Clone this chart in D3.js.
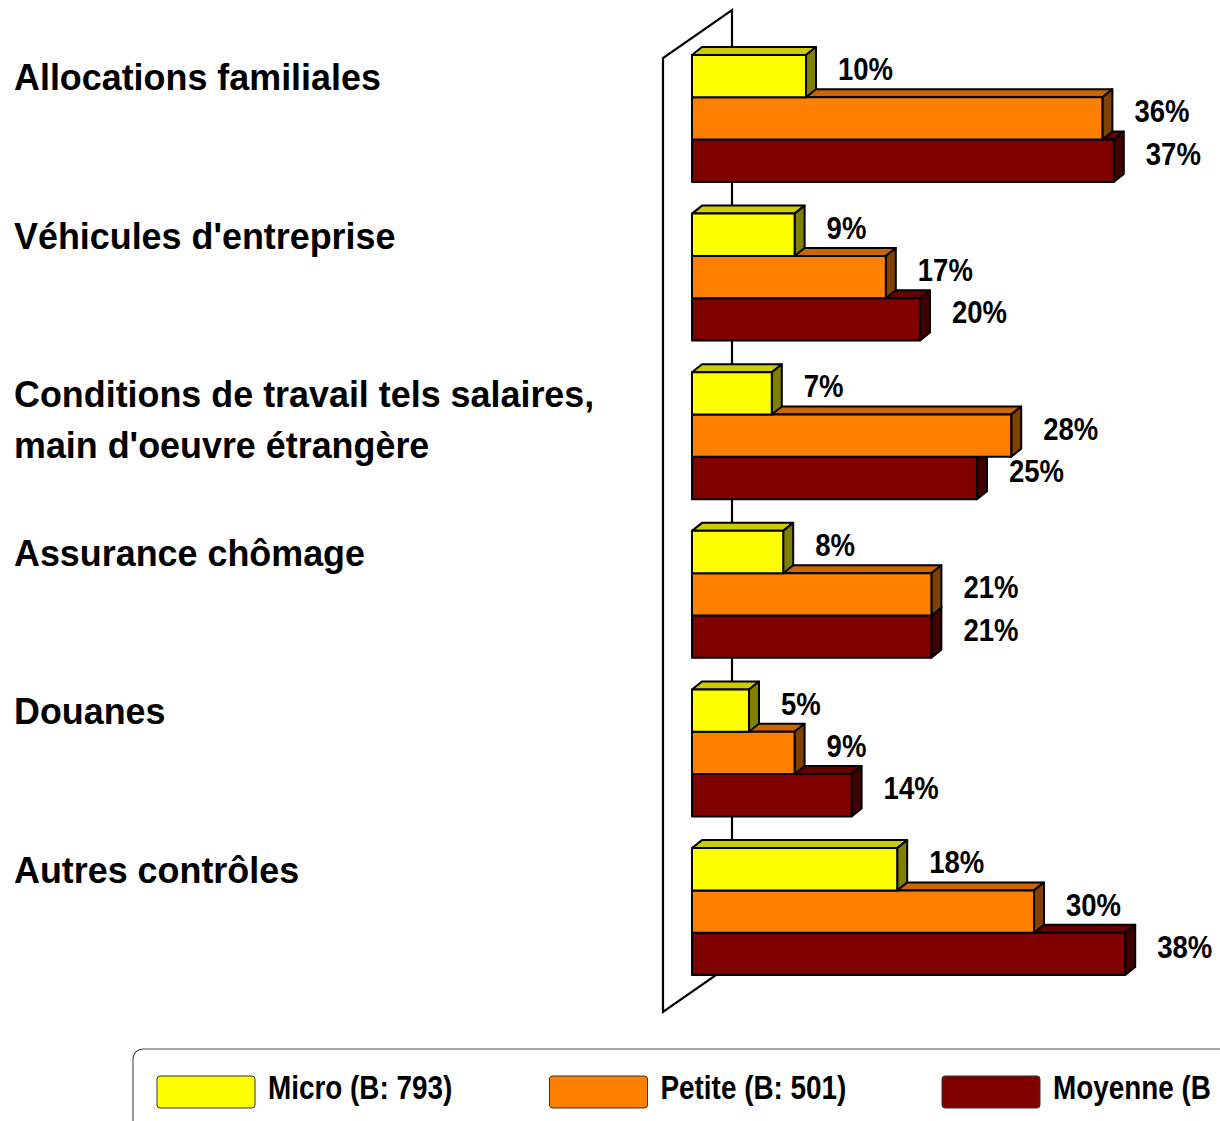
<!DOCTYPE html>
<html>
<head>
<meta charset="utf-8">
<script src="https://cdn.jsdelivr.net/npm/d3@7"></script>
<style>
  body { margin: 0; background: #fff; }
  svg { display: block; font-family: "Liberation Sans", Arial, sans-serif; font-weight: bold; }
</style>
</head>
<body>
<svg id="chart" width="1220" height="1121"></svg>
<script>
// categories (top to bottom), a category may hold several lines
let categories = [
    ["Allocations familiales"],
    ["Véhicules d'entreprise"],
    ["Conditions de travail tels salaires,", "main d'oeuvre étrangère"],
    ["Assurance chômage"],
    ["Douanes"],
    ["Autres contrôles"]
];
let seriesNames = ["Micro (B: 793)", "Petite (B: 501)", "Moyenne (B"];
let micro   = [10, 9, 7, 8, 5, 18];
let petite  = [36, 17, 28, 21, 9, 30];
let moyenne = [37, 20, 25, 21, 14, 38];

// face colours: front, top, side
let colors = [
    {front: "#FFFF00", top: "#CCCC00", side: "#808000"},
    {front: "#FF8000", top: "#CC6600", side: "#804000"},
    {front: "#800000", top: "#660000", side: "#400000"}
];

let svg = d3.select("#chart");

// Arial-like font squeezed horizontally by sx
function narrowText(parent, px, py, size, sx, str) {
    return parent.append("text")
        .attr("transform", "translate(" + px + "," + py + ") scale(" + sx + ",1)")
        .attr("font-size", size)
        .attr("fill", "black")
        .text(str);
}

// depth of the bars and of the wall
let dx = 10, dy = -8;
let wallDx = 69, wallDy = -48;

let x = d3.scaleLinear().domain([0, 40]).range([692, 692 + 456]);
let y = d3.scaleBand()
    .domain(d3.range(categories.length))
    .range([55, 975])
    .paddingInner(0.2);
let ySeries = d3.scaleBand()
    .domain(d3.range(seriesNames.length))
    .range([0, y.bandwidth()]);

let values = [micro, petite, moyenne];

// Side wall of the 3d plot
let wallX = 663, wallTop = 58, wallBottom = 1012;
svg.append("path")
    .attr("d", "M" + wallX + "," + wallBottom +
        "L" + wallX + "," + wallTop +
        "L" + (wallX + wallDx) + "," + (wallTop + wallDy) +
        "L" + (wallX + wallDx) + "," + (wallBottom + wallDy) + "Z")
    .attr("fill", "white")
    .attr("stroke", "black")
    .attr("stroke-width", 2.2)
    .attr("stroke-linejoin", "miter");

// Category labels
let catLabels = svg.append("g").attr("class", "categories");
categories.forEach(function (lines, i) {
    lines.forEach(function (line, j) {
        narrowText(catLabels, 14, y(i) + 35 + j * 51, 37, 0.97, line);
    });
});

// Bars: bottom series first so the upper ones sit on top
let bars = svg.append("g").attr("class", "bars");
let valueLabels = svg.append("g").attr("class", "values");
categories.forEach(function (c, i) {
    for (let s = seriesNames.length - 1; s >= 0; s--) {
        let v = values[s][i];
        let x0 = x(0), x1 = x(v);
        let y0 = y(i) + ySeries(s), y1 = y0 + ySeries.bandwidth();
        let g = bars.append("g");
        // top face
        g.append("path")
            .attr("d", "M" + x0 + "," + y0 + "L" + (x0 + dx) + "," + (y0 + dy) +
                "L" + (x1 + dx) + "," + (y0 + dy) + "L" + x1 + "," + y0 + "Z")
            .attr("fill", colors[s].top);
        // side face
        g.append("path")
            .attr("d", "M" + x1 + "," + y0 + "L" + (x1 + dx) + "," + (y0 + dy) +
                "L" + (x1 + dx) + "," + (y1 + dy) + "L" + x1 + "," + y1 + "Z")
            .attr("fill", colors[s].side);
        // front face
        g.append("rect")
            .attr("x", x0)
            .attr("y", y0)
            .attr("width", x1 - x0)
            .attr("height", y1 - y0)
            .attr("fill", colors[s].front);
        g.selectAll("*")
            .attr("stroke", "black")
            .attr("stroke-width", 2)
            .attr("stroke-linejoin", "round");

        // value label
        narrowText(valueLabels, x1 + dx + 22, (y0 + y1) / 2 + dy + 12, 32, 0.86, v + "%");
    }
});

// Legend
let legend = svg.append("g").attr("class", "legend");
legend.append("rect")
    .attr("x", 133)
    .attr("y", 1049)
    .attr("width", 1200)
    .attr("height", 200)
    .attr("rx", 10)
    .attr("fill", "white")
    .attr("stroke", "#555")
    .attr("stroke-width", 1.2);

seriesNames.forEach(function (name, s) {
    let lx = 157 + s * 392.5;
    legend.append("rect")
        .attr("x", lx)
        .attr("y", 1076)
        .attr("width", 98)
        .attr("height", 32)
        .attr("rx", 3)
        .attr("fill", colors[s].front)
        .attr("stroke", "#333")
        .attr("stroke-width", 1);
    narrowText(legend, lx + 111, 1099, 34, 0.82, name);
});
</script>
</body>
</html>
